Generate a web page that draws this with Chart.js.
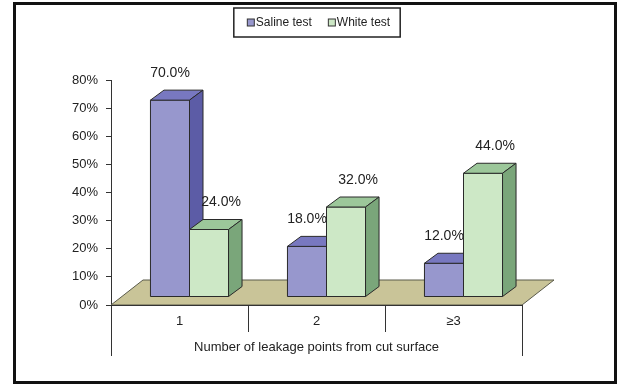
<!DOCTYPE html>
<html>
<head>
<meta charset="utf-8">
<script src="https://cdn.jsdelivr.net/npm/chart.js@4.4.1/dist/chart.umd.min.js"></script>
<style>
  html, body { margin: 0; padding: 0; background: #fff; }
  #wrap { width: 618px; height: 385px; }
</style>
</head>
<body>
<div id="wrap"><canvas id="leakChart"></canvas></div>
<script>
const categories = ['1', '2', '≥3'];
const salineTest = [70, 18, 12];
const whiteTest = [24, 32, 44];
const seriesNames = ['Saline test', 'White test'];

const FONT = '"Liberation Sans", Arial, sans-serif';
const INK = '#222';

// depth offsets (px) for the floor, the box fronts and the box tops/sides
const FLOOR_DX = 32, FLOOR_DY = -25;
const BAR_DX = 10, BAR_DY = -8;
const BOX_DX = 13.5, BOX_DY = -10;

const seriesColors = [
  { front: '#9797cd', top: '#7878c0', side: '#5c5ca6' },
  { front: '#cde8c6', top: '#9cc79a', side: '#7aa67a' }
];
// nudges the value labels sideways a bit, per series
const labelShift = [0, 12];

function drawBox(ctx, el, c) {
  const { x, y, base, width } = el.getProps(['x', 'y', 'base', 'width'], true);
  const l = x - width / 2, r = x + width / 2;
  ctx.lineWidth = 1;
  ctx.strokeStyle = '#2a2a2a';
  ctx.lineJoin = 'round';

  ctx.fillStyle = c.front;
  ctx.fillRect(l, y, width, base - y);
  ctx.strokeRect(l, y, width, base - y);

  ctx.beginPath();
  ctx.moveTo(l, y);
  ctx.lineTo(l + BOX_DX, y + BOX_DY);
  ctx.lineTo(r + BOX_DX, y + BOX_DY);
  ctx.lineTo(r, y);
  ctx.closePath();
  ctx.fillStyle = c.top;
  ctx.fill();
  ctx.stroke();

  ctx.beginPath();
  ctx.moveTo(r, y);
  ctx.lineTo(r + BOX_DX, y + BOX_DY);
  ctx.lineTo(r + BOX_DX, base + BOX_DY);
  ctx.lineTo(r, base);
  ctx.closePath();
  ctx.fillStyle = c.side;
  ctx.fill();
  ctx.stroke();
}

const bars3d = {
  id: 'bars3d',
  beforeDraw(chart) {
    const ctx = chart.ctx;
    ctx.save();
    // outer frame
    ctx.strokeStyle = '#111';
    ctx.lineWidth = 3;
    ctx.strokeRect(14.5, 3.5, 601, 379);

    // legend
    ctx.font = '12px ' + FONT;
    ctx.textBaseline = 'middle';
    ctx.textAlign = 'left';
    const sw = 7, gap = 2, spacing = 16, cy = 22.5;
    const items = chart.data.datasets.map((ds, i) => ({
      text: ds.label,
      color: seriesColors[i].front,
      w: sw + gap + ctx.measureText(ds.label).width
    }));
    const total = items.reduce((s, it) => s + it.w, 0) + spacing * (items.length - 1);
    let lx = 318.5 - total / 2;
    ctx.lineWidth = 1.5;
    ctx.strokeStyle = INK;
    ctx.strokeRect(lx - 13, 8, total + 23, 29);
    ctx.lineWidth = 1;
    items.forEach(it => {
      ctx.fillStyle = it.color;
      ctx.fillRect(lx + 0.5, cy - 3.5, sw, sw);
      ctx.strokeStyle = '#333';
      ctx.strokeRect(lx + 0.5, cy - 3.5, sw, sw);
      ctx.fillStyle = INK;
      ctx.fillText(it.text, lx + sw + gap, cy);
      lx += it.w + spacing;
    });
    ctx.restore();
  },
  beforeDatasetsDraw(chart) {
    const { ctx, chartArea: a } = chart;
    ctx.save();
    ctx.beginPath();
    ctx.moveTo(a.left, a.bottom);
    ctx.lineTo(a.right, a.bottom);
    ctx.lineTo(a.right + FLOOR_DX, a.bottom + FLOOR_DY);
    ctx.lineTo(a.left + FLOOR_DX, a.bottom + FLOOR_DY);
    ctx.closePath();
    ctx.fillStyle = '#c9c498';
    ctx.fill();
    ctx.strokeStyle = '#5a5a4a';
    ctx.lineWidth = 1;
    ctx.stroke();
    ctx.beginPath();
    ctx.moveTo(a.left, a.bottom + 0.5);
    ctx.lineTo(a.right, a.bottom + 0.5);
    ctx.strokeStyle = '#333';
    ctx.stroke();
    ctx.restore();
  },
  beforeDatasetDraw() {
    return false;
  },
  afterDatasetsDraw(chart) {
    const ctx = chart.ctx;
    const metas = chart.data.datasets.map((_, i) => chart.getDatasetMeta(i));
    ctx.save();
    ctx.translate(BAR_DX, BAR_DY);
    categories.forEach((_, j) => {
      metas.forEach((meta, i) => drawBox(ctx, meta.data[j], seriesColors[i]));
    });
    ctx.font = '14px ' + FONT;
    ctx.fillStyle = INK;
    ctx.textAlign = 'center';
    ctx.textBaseline = 'middle';
    metas.forEach((meta, i) => {
      const values = chart.data.datasets[i].data;
      meta.data.forEach((el, j) => {
        ctx.fillText(values[j].toFixed(1) + '%', el.x + labelShift[i], el.y - 27);
      });
    });
    ctx.restore();
  },
  afterDraw(chart) {
    const { ctx, chartArea: a, scales: { x } } = chart;
    ctx.save();
    ctx.strokeStyle = '#333';
    ctx.lineWidth = 1;
    for (let i = 0; i <= categories.length; i++) {
      const px = Math.round(x.getPixelForValue(i - 0.5)) + 0.5;
      const outer = i === 0 || i === categories.length;
      ctx.beginPath();
      ctx.moveTo(px, a.bottom);
      ctx.lineTo(px, outer ? 356 : 332);
      ctx.stroke();
    }
    ctx.restore();
  }
};

new Chart(document.getElementById('leakChart'), {
  type: 'bar',
  data: {
    labels: categories,
    datasets: [
      { label: seriesNames[0], data: salineTest, backgroundColor: seriesColors[0].front },
      { label: seriesNames[1], data: whiteTest, backgroundColor: seriesColors[1].front }
    ]
  },
  options: {
    responsive: true,
    maintainAspectRatio: false,
    animation: false,
    layout: { padding: { top: 80, right: 96, bottom: 0, left: 0 } },
    datasets: { bar: { categoryPercentage: 0.57, barPercentage: 1.0 } },
    plugins: {
      legend: { display: false },
      tooltip: { enabled: false }
    },
    scales: {
      x: {
        afterFit: (s) => { s.height = 80; },
        grid: { display: false, drawTicks: false },
        border: { display: false },
        ticks: { color: INK, font: { family: FONT, size: 13 }, padding: 9 },
        title: {
          display: true,
          text: 'Number of leakage points from cut surface',
          color: INK,
          font: { family: FONT, size: 13 },
          padding: { top: 0, bottom: 30 }
        }
      },
      y: {
        min: 0,
        max: 80,
        afterFit: (s) => { s.width = 111; },
        grid: { drawOnChartArea: false, drawTicks: true, tickLength: 5, color: '#333' },
        border: { display: true, color: '#333' },
        ticks: {
          stepSize: 10,
          padding: 8,
          color: INK,
          font: { family: FONT, size: 13 },
          callback: (v) => v + '%'
        }
      }
    }
  },
  plugins: [bars3d]
});
</script>
</body>
</html>
